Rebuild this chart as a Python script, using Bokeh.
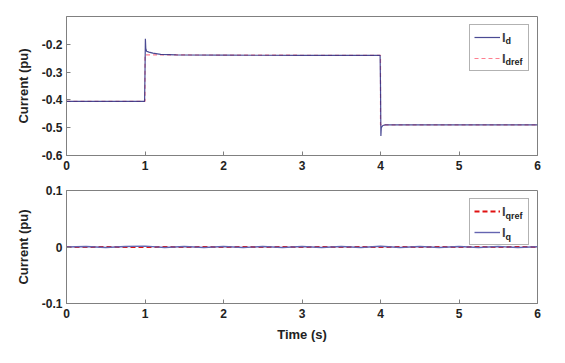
from bokeh.plotting import figure
from bokeh.layouts import column
from bokeh.models import Legend, LegendItem, Label, FixedTicker, Range1d
from bokeh.embed import file_html
from bokeh.resources import INLINE

# ---- data ----
t_id = [0, 0.995, 1.0, 1.005, 1.01, 1.02, 1.05, 1.1, 1.2, 1.4, 2.0, 3.0, 3.995, 4.0, 4.005, 4.01, 4.03, 4.06, 6.0]
id_vals = [-0.405, -0.405, -0.30, -0.18, -0.215, -0.225, -0.228, -0.232, -0.236, -0.238, -0.239, -0.240, -0.240,
           -0.35, -0.53, -0.50, -0.492, -0.490, -0.490]
t_idref = [0, 1.0, 1.0, 4.0, 4.0, 6.0]
idref_vals = [-0.405, -0.405, -0.238, -0.240, -0.490, -0.490]

t_iq = [0, 0.25, 0.5, 0.75, 1.0, 1.25, 1.5, 1.75, 2.0, 2.25, 2.5, 2.75, 3.0, 3.25, 3.5, 3.75,
        4.0, 4.25, 4.5, 4.75, 5.0, 5.25, 5.5, 5.75, 6.0]
iq_vals = [0, 0.001, -0.001, 0.001, 0.0015, -0.001, 0.001, -0.0008, 0.001, -0.001, 0.0008, -0.0008, 0.001,
           -0.001, 0.0008, -0.001, 0.0012, -0.0008, 0.001, -0.001, 0.0008, -0.0008, 0.001, -0.001, 0.0005]
t_iqref = [0, 6.0]
iqref_vals = [0, 0]

x_ticks = [0, 1, 2, 3, 4, 5, 6]
y1_ticks = [-0.6, -0.5, -0.4, -0.3, -0.2]
y1_labels = ["-0.6", "-0.5", "-0.4", "-0.3", "-0.2"]
y2_ticks = [-0.1, 0, 0.1]
y2_labels = ["-0.1", "0", "0.1"]

FONT = "Liberation Sans"
AX = "#808080"


def style(p, yticks, ylabels, ylabel):
    p.xaxis.ticker = FixedTicker(ticks=x_ticks)
    p.yaxis.ticker = FixedTicker(ticks=yticks)
    p.yaxis.major_label_overrides = {t: s for t, s in zip(yticks, ylabels)}
    for ax in [p.xaxis[0], p.yaxis[0]]:
        ax.axis_line_color = AX
        ax.major_tick_line_color = AX
        ax.major_tick_in = 4
        ax.major_tick_out = 0
        ax.minor_tick_line_color = None
        ax.major_label_text_font = FONT
        ax.major_label_text_font_style = "bold"
        ax.major_label_text_font_size = "12px"
        ax.major_label_text_color = "#222222"
        ax.axis_label_text_font = FONT
        ax.axis_label_text_font_style = "bold"
        ax.axis_label_text_font_size = "13px"
        ax.axis_label_text_color = "#222222"
    p.xaxis.major_label_standoff = 5
    p.yaxis.major_label_standoff = 4
    p.yaxis.axis_label = ylabel
    p.yaxis.axis_label_standoff = 8
    p.grid.visible = False
    p.outline_line_color = AX
    p.outline_line_width = 1
    p.background_fill_color = "white"
    p.border_fill_color = "white"


def make_legend(items):
    return Legend(items=items, location="top_right", label_width=22, glyph_width=26, glyph_height=16,
                  spacing=5, padding=4, margin=8, label_standoff=2,
                  label_text_font=FONT, label_text_font_style="bold", label_text_font_size="13px",
                  border_line_color="#666666", border_line_width=1.5,
                  background_fill_alpha=0.0)


def sub(p, x, y, txt):
    p.add_layout(Label(x=x, y=y, x_units="screen", y_units="screen", text=txt, text_font=FONT,
                       text_font_style="bold", text_font_size="9px", text_baseline="alphabetic",
                       text_color="#222222", level="overlay"))


p1 = figure(width=565, height=175, output_backend="svg", toolbar_location=None,
            x_range=Range1d(0, 6), y_range=Range1d(-0.6, -0.1),
            min_border_left=66, min_border_right=28, min_border_top=16, min_border_bottom=20)
r_idref = p1.line(t_idref, idref_vals, line_color="#ff7f8f", line_width=1.2, line_dash="4 3")
r_id = p1.line(t_id, id_vals, line_color="#2a2a80", line_width=1.2, line_alpha=0.85)
style(p1, y1_ticks, y1_labels, "Current (pu)")
p1.add_layout(make_legend([LegendItem(label="I", renderers=[r_id]),
                           LegendItem(label="I", renderers=[r_idref])]))
sub(p1, 439, 115, "d")
sub(p1, 439, 94, "dref")

p2 = figure(width=565, height=188, output_backend="svg", toolbar_location=None,
            x_range=Range1d(0, 6), y_range=Range1d(-0.1, 0.1),
            min_border_left=66, min_border_right=28, min_border_top=15, min_border_bottom=60)
r_iqref = p2.line(t_iqref, iqref_vals, line_color="#e01010", line_width=2, line_dash="5 3")
r_iq = p2.line(t_iq, iq_vals, line_color="#6464b0", line_width=1.4)
style(p2, y2_ticks, y2_labels, "Current (pu)")
p2.xaxis.axis_label = "Time (s)"
p2.xaxis.axis_label_standoff = 6
p2.add_layout(make_legend([LegendItem(label="I", renderers=[r_iqref]),
                           LegendItem(label="I", renderers=[r_iq])]))
sub(p2, 439, 88, "qref")
sub(p2, 439, 67, "q")

p = column(p1, p2)
open("out.html", "w").write(file_html(p, INLINE))
